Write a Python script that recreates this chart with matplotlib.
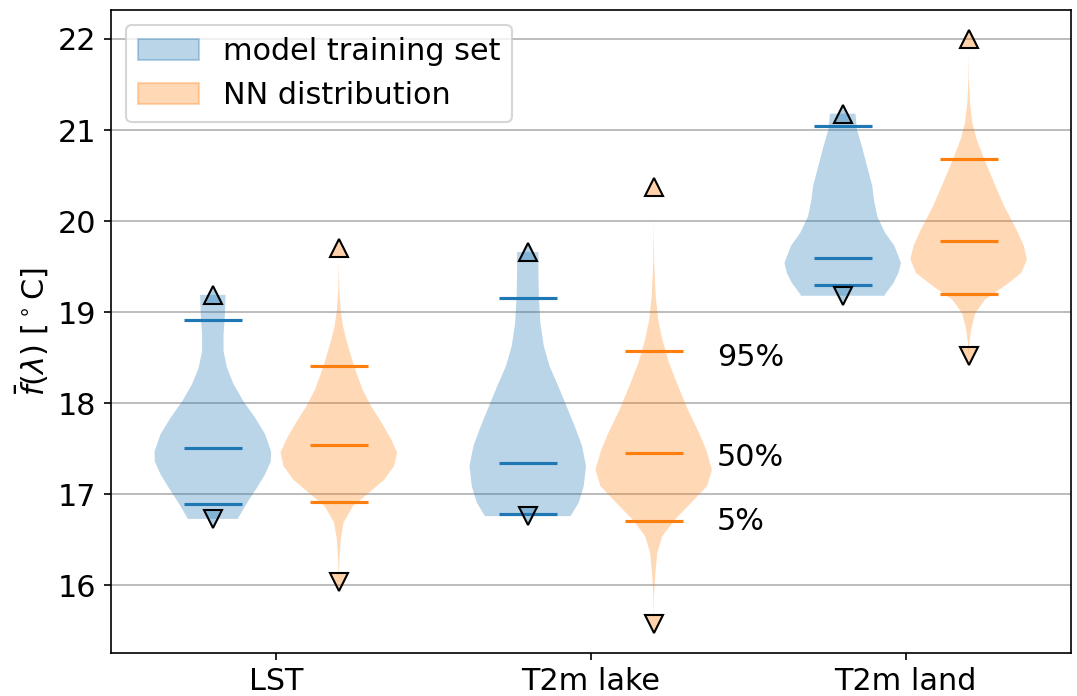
#violin plot of the mean temperature: model training set vs NN distribution

import matplotlib
matplotlib.use("Agg")
import matplotlib.pyplot as plt
import matplotlib.patches as mpatches
import numpy as np

########################

#data

variables = ["LST", "T2m lake", "T2m land"]
quantile_levels = ["5%", "50%", "95%"]
label_y = [16.7, 17.4, 18.5]

#5%, 50%, 95% quantiles and extremes, one entry per variable
train_quantiles = [[16.89, 17.51, 18.91], [16.78, 17.34, 19.16], [19.30, 19.60, 21.04]]
train_min = [16.73, 16.76, 19.18]
train_max = [19.19, 19.66, 21.18]

nn_quantiles = [[16.91, 17.54, 18.41], [16.71, 17.45, 18.57], [19.20, 19.78, 20.68]]
nn_min = [16.04, 15.58, 18.52]
nn_max = [19.70, 20.37, 22.00]

#density profiles (temperature, relative density)
lst_train_y = [16.73, 16.74, 16.93, 17.07, 17.22, 17.36, 17.47, 17.66, 17.84, 18.02, 18.21,
               18.39, 18.57, 18.76, 18.94, 19.19]
lst_train_d = [25.5, 25.5, 35.8, 44.2, 52.5, 58.2, 58.5, 52.5, 42.5, 30.8, 20.8,
               14.2, 10.8, 10.8, 12.0, 12.8]
lst_nn_y = [16.04, 16.14, 16.29, 16.51, 16.69, 16.87, 17.02, 17.16, 17.31, 17.46, 17.60,
            17.79, 17.97, 18.15, 18.41, 18.70, 18.85, 19.01, 19.25, 19.54, 19.70]
lst_nn_d = [0, 0.3, 0.7, 2.0, 4.8, 14.2, 30.8, 45.8, 55.8, 58.8, 53.0,
            43.0, 32.5, 24.0, 15.3, 7.5, 4.2, 2.0, 0.5, 0, 0]

lake_train_y = [16.76, 16.91, 17.09, 17.31, 17.53, 17.75, 17.97, 18.19, 18.41, 18.63,
                18.88, 19.16, 19.43, 19.66]
lake_train_d = [43.3, 51.7, 56.7, 59.0, 55.0, 47.5, 39.2, 30.8, 22.0, 16.2,
                12.8, 11.3, 10.8, 10.8]
lake_nn_y = [15.58, 15.88, 16.14, 16.36, 16.54, 16.72, 16.91, 17.09, 17.27, 17.49, 17.68,
             17.93, 18.19, 18.45, 18.70, 18.92, 19.18, 19.54, 19.98, 20.37]
lake_nn_d = [0, 0.3, 1.7, 3.7, 8.7, 21.3, 38.3, 54.2, 59.2, 53.3, 45.8,
             34.7, 24.7, 15.3, 8.7, 4.5, 2.0, 0.5, 0, 0]

land_train_y = [19.18, 19.19, 19.32, 19.43, 19.54, 19.73, 19.87, 20.05, 20.24, 20.38,
                20.60, 20.82, 21.01, 21.18]
land_train_d = [42.0, 42.0, 50.8, 55.8, 58.3, 51.7, 42.5, 34.7, 31.2, 29.7,
                24.5, 19.2, 14.2, 12.8]
land_nn_y = [18.52, 18.66, 18.81, 18.99, 19.14, 19.29, 19.43, 19.58, 19.73, 19.91, 20.16,
             20.42, 20.68, 20.90, 21.08, 21.30, 21.55, 21.85, 22.00]
land_nn_d = [0, 0.7, 2.5, 6.7, 16.7, 36.7, 53.3, 59.0, 55.8, 48.3, 36.2,
             25.8, 15.8, 8.0, 3.7, 1.3, 0.3, 0, 0]

train_profiles = [(lst_train_y, lst_train_d), (lake_train_y, lake_train_d), (land_train_y, land_train_d)]
nn_profiles = [(lst_nn_y, lst_nn_d), (lake_nn_y, lake_nn_d), (land_nn_y, land_nn_d)]

########################

#functions

def make_stats(profiles, quantiles, mins, maxs):
    stats = []
    for (y, d), q, lo, hi in zip(profiles, quantiles, mins, maxs):
        stats.append({"coords": np.array(y), "vals": np.array(d, dtype=float),
                      "mean": q[1], "median": q[1], "min": lo, "max": hi,
                      "quantiles": np.array(q)})
    return stats

def draw_violins(ax, stats, positions, color):
    parts = ax.violin(stats, positions=positions, widths=0.37, showextrema=False)
    for body in parts["bodies"]:
        body.set_facecolor(color)
        body.set_edgecolor("none")
        body.set_alpha(0.3)
    parts["cquantiles"].set_color(color)
    parts["cquantiles"].set_linewidth(1.5)
    face = matplotlib.colors.to_rgba(color, 0.35)
    ax.plot(positions, [s["max"] for s in stats], "^", ms=9, mfc=face, mec="black", mew=1.0, ls="none")
    ax.plot(positions, [s["min"] for s in stats], "v", ms=9, mfc=face, mec="black", mew=1.0, ls="none")

########################

#main body

plt.rcParams["font.size"] = 14.5

fig = plt.figure(figsize=(1077 / 150, 696 / 150), dpi=150)
ax = fig.add_axes([0.103, 0.062, 0.891, 0.924])
ax.set_axisbelow(True)
ax.grid(axis="y", color="#b0b0b0", linewidth=0.8)

x = np.arange(len(variables))
draw_violins(ax, make_stats(train_profiles, train_quantiles, train_min, train_max), x - 0.2, "C0")
draw_violins(ax, make_stats(nn_profiles, nn_quantiles, nn_min, nn_max), x + 0.2, "C1")

#quantile labels next to the NN lake violin
for level, value in zip(quantile_levels, label_y):
    ax.text(1.4, value, level, ha="left", va="center")

ax.set_xticks(x)
ax.set_xticklabels(variables)
ax.set_ylabel(r"$\bar{f}(\lambda)$ [$^\circ$C]")

handles = [mpatches.Patch(color="C0", alpha=0.3, label="model training set"),
           mpatches.Patch(color="C1", alpha=0.3, label="NN distribution")]
ax.legend(handles=handles, loc="upper left")

fig.savefig("out.png", dpi=150)
